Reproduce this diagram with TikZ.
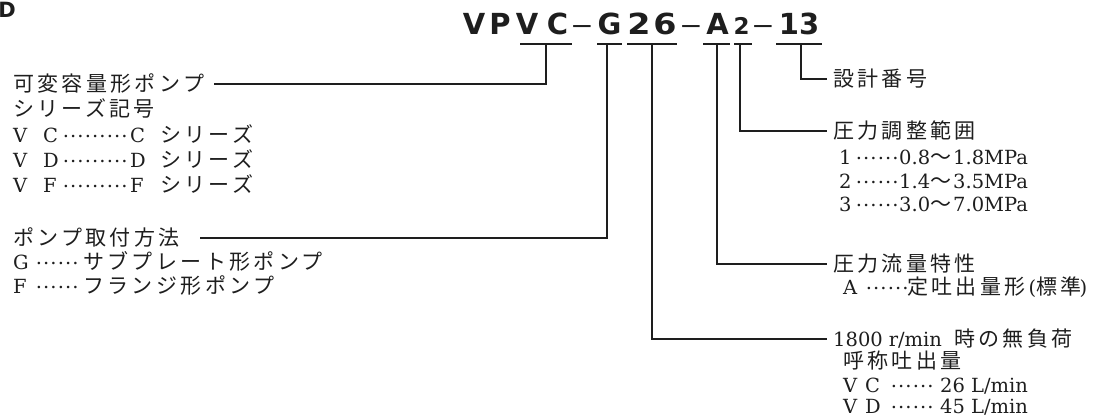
\documentclass[tikz,border=0pt]{standalone}
\usepackage{fontspec}
\setmainfont{DejaVu Serif}
\newfontfamily\jp[LetterSpace=16,Scale=1.077]{Noto Sans CJK JP}
\newfontfamily\jpd[Scale=1.077]{Noto Sans CJK JP}
\newfontfamily\ttl{DejaVu Sans}
\definecolor{ink}{HTML}{1E1E1E}
\newcommand{\dotrow}[1]{\hbox to #1{\xleaders\hbox to 7.3pt{\hss\raisebox{5.5pt}{.}\hss}\hfill}}
\begin{document}
\begin{tikzpicture}[x=1pt,y=-1pt,
  lbl/.style={anchor=base west, inner sep=0pt, text=ink, font=\fontsize{19.5pt}{24pt}\selectfont},
  tch/.style={anchor=base, inner sep=0pt, text=ink, font=\ttl\bfseries\fontsize{29pt}{30pt}\selectfont},
  dsh/.style={anchor=base, inner sep=0pt, text=ink, xscale=1.5, font=\ttl\fontsize{29pt}{30pt}\selectfont},
  conn/.style={draw=ink, line width=1.4pt}]
\useasboundingbox (0,0) rectangle (1101,419);
% corner mark
\node[anchor=base east, inner sep=0pt, text=ink, font=\ttl\bfseries\fontsize{21pt}{22pt}\selectfont] (D) at (16,18) {D};
% model code
\node[tch] (t1) at (474,35) {V};
\node[tch] (t2) at (500,35) {P};
\node[tch] (t3) at (527,35) {V};
\node[tch] (t4) at (557.5,35) {C};
\node[dsh] (d1) at (582.5,35) {–};
\node[tch] (t5) at (609.5,35) {G};
\node[tch, xscale=1.15] (t6) at (639,35) {2};
\node[tch, xscale=1.15] (t7) at (665,35) {6};
\node[dsh] (d2) at (691,35) {–};
\node[tch] (t8) at (717.5,35) {A};
\node[tch, font=\ttl\bfseries\fontsize{23pt}{24pt}\selectfont] (t9) at (741.5,35) {2};
\node[dsh] (d3) at (763,35) {–};
\node[tch] (t10) at (799,35) {13};
% left labels
\node[lbl] (L1) at (13,92) {\jp 可変容量形ポンプ};
\node[lbl] (L2) at (13,117) {\jp シリーズ記号};
\node[lbl] (L3) at (13,143) {\makebox[30pt][l]{V}\makebox[19pt][l]{C}\makebox[68pt][l]{\dotrow{66pt}}\makebox[30pt][l]{C}{\jp シリーズ}};
\node[lbl] (L4) at (13,168) {\makebox[30pt][l]{V}\makebox[19pt][l]{D}\makebox[68pt][l]{\dotrow{66pt}}\makebox[30pt][l]{D}{\jp シリーズ}};
\node[lbl] (L5) at (13,193) {\makebox[30pt][l]{V}\makebox[19pt][l]{F}\makebox[68pt][l]{\dotrow{66pt}}\makebox[30pt][l]{F}{\jp シリーズ}};
\node[lbl] (L6) at (13,246) {\jp ポンプ取付方法};
\node[lbl] (L7) at (13,270) {\makebox[22pt][l]{G}\makebox[48pt][l]{\dotrow{44pt}}{\jp サブプレート形ポンプ}};
\node[lbl] (L8) at (13,294) {\makebox[22pt][l]{F}\makebox[48pt][l]{\dotrow{44pt}}{\jp フランジ形ポンプ}};
% right labels
\node[lbl] (R1) at (833,87) {\jp 設計番号};
\node[lbl] (R2) at (833,139) {\jp 圧力調整範囲};
\node[lbl] (R3) at (839,165) {\makebox[16pt][l]{1}\makebox[44pt][l]{\dotrow{44pt}}0.8{\jpd ～}\hspace{2pt}1.8MPa};
\node[lbl] (R4) at (839,189) {\makebox[16pt][l]{2}\makebox[44pt][l]{\dotrow{44pt}}1.4{\jpd ～}\hspace{2pt}3.5MPa};
\node[lbl] (R5) at (839,212) {\makebox[16pt][l]{3}\makebox[44pt][l]{\dotrow{44pt}}3.0{\jpd ～}\hspace{2pt}7.0MPa};
\node[lbl] (R6) at (833,272) {\jp 圧力流量特性};
\node[lbl] (R7) at (843,295) {\makebox[22pt][l]{A}\makebox[42pt][l]{\dotrow{44pt}}{\jp 定吐出量形}\hspace{3pt}({\jp 標準}\hspace{-2pt})};
\node[lbl] (R8) at (833,347) {1800\hspace{6pt}r/min\hspace{12pt}{\jp 時の無負荷}};
\node[lbl] (R9) at (843,369) {\jp 呼称吐出量};
\node[lbl] (R10) at (843,393) {\makebox[22pt][l]{V}\makebox[25pt][l]{C}\makebox[50pt][l]{\dotrow{44pt}}26 L/min};
\node[lbl] (R11) at (843,414) {\makebox[22pt][l]{V}\makebox[25pt][l]{D}\makebox[50pt][l]{\dotrow{44pt}}45 L/min};
% underline coordinates
\coordinate (uVa) at (520,44); \coordinate (uVb) at (572,44); \coordinate (uVm) at (546,44);
\coordinate (uGa) at (597,44); \coordinate (uGb) at (622,44); \coordinate (uGm) at (607,44);
\coordinate (uNa) at (627,44); \coordinate (uNb) at (677,44); \coordinate (uNm) at (652,44);
\coordinate (uAa) at (703,44); \coordinate (uAb) at (730,44); \coordinate (uAm) at (717,44);
\coordinate (uPa) at (734,44); \coordinate (uPb) at (752,44); \coordinate (uPm) at (740,44);
\coordinate (uDa) at (776,44); \coordinate (uDb) at (822,44); \coordinate (uDm) at (801,44);
\foreach \k in {V,G,N,A,P,D} {\draw[conn] (u\k a) -- (u\k b);}
% connectors
\draw[conn, shorten >=10pt] (uVm) |- (L1.east);
\draw[conn, shorten >=20pt] (uGm) |- (L6.east);
\draw[conn, shorten >=6pt] (uDm) |- (R1.west);
\draw[conn, shorten >=6pt] (uPm) |- (R2.west);
\draw[conn, shorten >=6pt] (uAm) |- (R6.west);
\draw[conn, shorten >=6pt] (uNm) |- (R8.west);
\end{tikzpicture}
\end{document}
